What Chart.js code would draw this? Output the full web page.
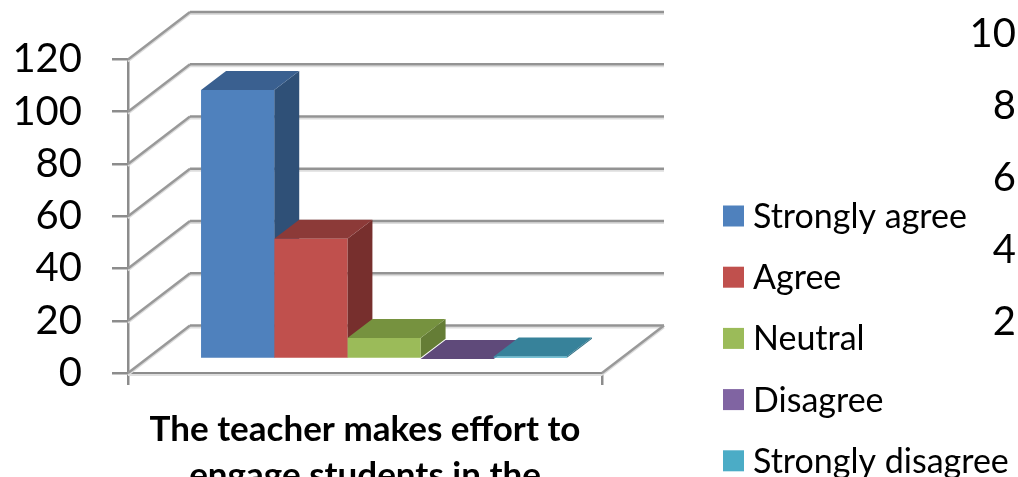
<!DOCTYPE html>
<html>
<head>
<meta charset="utf-8">
<title>Teacher effort chart</title>
<script src="https://cdn.jsdelivr.net/npm/chart.js@4"></script>
<style>
    html, body { margin:0; padding:0; background:#fff; overflow:hidden; }
    #wrap { position:relative; width:1018px; height:477px; overflow:hidden; }
    canvas { position:absolute; top:0; display:block; filter:blur(0.45px); }
    #mainChart { left:0; }
    #nextChart { left:948px; }
</style>
</head>
<body>
<div id="wrap">
    <canvas id="mainChart" width="1018" height="477"></canvas>
    <canvas id="nextChart" width="70" height="477"></canvas>
</div>
<script>
var categories = [["The teacher makes effort to", "engage students in the"]];
var seriesNames = ["Strongly agree", "Agree", "Neutral", "Disagree", "Strongly disagree"];
var stronglyAgree = [103];
var agree = [46];
var neutral = [8];
var disagree = [0];
var stronglyDisagree = [1];
var seriesValues = [stronglyAgree, agree, neutral, disagree, stronglyDisagree];

var frontColors = ["#4f81bd", "#c0504d", "#9bbb59", "#8064a2", "#4bacc6"];
var topColors = ["#3a6090", "#8c3a38", "#76923f", "#5f4a7a", "#37829a"];
var sideColors = ["#2f5077", "#772f2d", "#657d36", "#503e67", "#2f6e82"];

// the page cuts the next chart off, only these parts of its axis are seen
var nextTickValues = [100, 80, 60, 40, 20];
var nextTickLabels = ["10", "8", "6", "4", "2"];

var fontName = "Lato";
var wallX = 62, wallY = -47.5;     // floor depth
var barX = 19, barY = -14;         // bars stand this far back from the front edge
var depthX = 25, depthY = -19;     // depth of one bar

function line(ctx, x1, y1, x2, y2, color, width) {
    ctx.beginPath();
    ctx.moveTo(x1, y1);
    ctx.lineTo(x2, y2);
    ctx.strokeStyle = color;
    ctx.lineWidth = width;
    ctx.stroke();
}

function face(ctx, pts, color) {
    ctx.beginPath();
    ctx.moveTo(pts[0][0], pts[0][1]);
    for (var i = 1; i < pts.length; i++) ctx.lineTo(pts[i][0], pts[i][1]);
    ctx.closePath();
    ctx.fillStyle = color;
    ctx.fill();
}

var walls3d = {
    id:"walls3d",
    beforeDatasetsDraw:function(chart) {
        var ctx = chart.ctx, area = chart.chartArea, y = chart.scales.y;
        ctx.save();
        y.ticks.forEach(function(t) {
            var py = y.getPixelForValue(t.value);
            line(ctx, area.left + wallX, py + wallY + 2, area.right + wallX, py + wallY + 2, "#dedede", 2);
            line(ctx, area.left + wallX, py + wallY, area.right + wallX, py + wallY, "#939393", 2.5);
            line(ctx, area.left, py + 2, area.left + wallX, py + wallY + 2, "#dcdcdc", 2);
            line(ctx, area.left, py, area.left + wallX, py + wallY, "#999999", 2.5);
        });
        // floor, right hand side
        var py0 = y.getPixelForValue(0);
        line(ctx, area.right, py0 + 2, area.right + wallX, py0 + wallY + 2, "#dcdcdc", 2);
        line(ctx, area.right, py0, area.right + wallX, py0 + wallY, "#999999", 2.5);
        line(ctx, area.left, py0 + 2, area.right, py0 + 2, "#dedede", 2);
        ctx.restore();

        // depth faces first, the library draws the front faces over them
        ctx.save();
        ctx.translate(barX, barY);
        for (var i = 0; i < seriesValues.length; i++) {
            var b = chart.getDatasetMeta(i).data[0];
            var l = b.x - b.width / 2, r = b.x + b.width / 2;
            face(ctx, [[r, b.y], [r + depthX, b.y + depthY], [r + depthX, b.base + depthY], [r, b.base]], sideColors[i]);
            face(ctx, [[l, b.y], [r, b.y], [r + depthX, b.y + depthY], [l + depthX, b.y + depthY]], topColors[i]);
        }
        // stays shifted while the datasets are drawn, restored below
    },
    afterDatasetsDraw:function(chart) {
        chart.ctx.restore();
    }
};

var sideLegend = {
    id:"sideLegend",
    afterDraw:function(chart) {
        var ctx = chart.ctx;
        ctx.save();
        ctx.font = "34px " + fontName;
        ctx.textAlign = "left";
        ctx.textBaseline = "middle";
        chart.data.datasets.forEach(function(ds, i) {
            var cy = 216 + i * 61.2;
            ctx.fillStyle = ds.backgroundColor;
            ctx.fillRect(723, cy - 10.5, 21, 21);
            ctx.fillStyle = "#000";
            ctx.fillText(ds.label, 753, cy + 1);
        });
        ctx.restore();
    }
};

$ = function(id) { return document.getElementById(id); };

var dataSets = [];
for (var i = 0; i < seriesNames.length; i++) {
    dataSets.push({
        label:seriesNames[i],
        data:seriesValues[i],
        backgroundColor:frontColors[i],
        borderWidth:0,
        clip:false
    });
}

var mainChart = new Chart($("mainChart"), {
    type:"bar",
    plugins:[walls3d, sideLegend],
    data:{
        labels:categories,
        datasets:dataSets
    },
    options:{
        responsive:false,
        animation:false,
        layout:{ padding:{ top:59.5, right:416, left:0, bottom:0 } },
        datasets:{ bar:{ barPercentage:1, categoryPercentage:0.772 } },
        plugins:{
            legend:{ display:false },
            tooltip:{ enabled:false }
        },
        scales:{
            x:{
                afterFit:function(s) { s.height = 104; },
                border:{ color:"#8c8c8c", width:2.5 },
                grid:{ color:"#8c8c8c", lineWidth:2.5, drawOnChartArea:false, tickLength:12 },
                ticks:{
                    color:"#000",
                    maxRotation:0,
                    autoSkip:false,
                    padding:22,
                    font:{ family:fontName, size:35, weight:"bold", lineHeight:1.3 }
                }
            },
            y:{
                min:0,
                max:120,
                afterFit:function(s) { s.width = 128; },
                border:{ color:"#8c8c8c", width:2.5 },
                grid:{ color:"#8c8c8c", lineWidth:2.5, drawOnChartArea:false, tickLength:16 },
                ticks:{
                    stepSize:20,
                    color:"#000",
                    padding:30,
                    font:{ family:fontName, size:40 }
                }
            }
        }
    }
});

var nextChart = new Chart($("nextChart"), {
    type:"bar",
    data:{ labels:[""], datasets:[] },
    options:{
        responsive:false,
        animation:false,
        layout:{ padding:{ top:34, bottom:155, left:0, right:0 } },
        plugins:{ legend:{ display:false }, tooltip:{ enabled:false } },
        scales:{
            x:{ display:false },
            y:{
                min:nextTickValues[nextTickValues.length - 1],
                max:nextTickValues[0],
                afterFit:function(s) { s.width = 68; },
                border:{ display:false },
                grid:{ display:false, drawTicks:false },
                ticks:{
                    stepSize:20,
                    color:"#000",
                    padding:0,
                    font:{ family:fontName, size:40 },
                    callback:function(v) {
                        return nextTickLabels[nextTickValues.indexOf(v)];
                    }
                }
            }
        }
    }
});
</script>
</body>
</html>
